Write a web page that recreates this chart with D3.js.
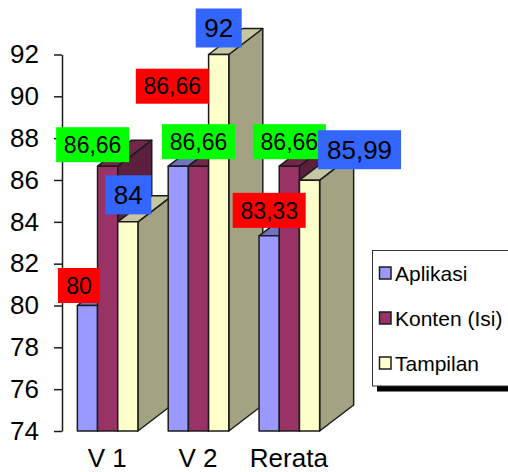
<!DOCTYPE html>
<html>
<head>
<meta charset="utf-8">
<script src="https://cdn.jsdelivr.net/npm/d3@7"></script>
<style>
  html, body { margin: 0; padding: 0; background: #fff; }
  svg { display: block; }
  text { font-family: "Liberation Sans", Arial, sans-serif; fill: #000; }
</style>
</head>
<body>
<div id="chart"></div>
<script>
const categories = ["V 1", "V 2", "Rerata"]
const seriesNames = ["Aplikasi", "Konten (Isi)", "Tampilan"]
const aplikasi = [80, 86.66, 83.33]
const konten = [86.66, 86.66, 86.66]
const tampilan = [84, 92, 85.99]
const yTicks = [74, 76, 78, 80, 82, 84, 86, 88, 90, 92]

const w = 508, h = 472
const depthX = 34, depthY = 26
const edge = "#1c1c1c"

const seriesValues = [aplikasi, konten, tampilan]
const styles = [
  { front: "#9999ff", side: "#5c5c99", top: "#7272bf", box: "#ff0000", font: 23, boxW: 73, boxH: 35 },
  { front: "#993366", side: "#5c1f3d", top: "#72264c", box: "#00ff00", font: 23, boxW: 73, boxH: 35 },
  { front: "#ffffcc", side: "#a3a384", top: "#c6c6a0", box: "#3366ff", font: 26, boxW: 46, boxH: 39 }
]
// hand placed labels: shift from the top centre of each bar, [series][category]
const labelShift = [
  [[-8.5, -20], [-6, -80], [0, -25.5]],
  [[-15, -21.5], [0, -24.5], [0, -24.5]],
  [[0.5, -27], [0, -26.5], [50, -30.5]]
]

const xGroup = d3.scaleBand()
  .domain(categories)
  .range([62, 335])
  .paddingInner(1 / 3)
  .paddingOuter(0.169)

const xBar = d3.scaleBand()
  .domain(seriesNames)
  .range([0, xGroup.bandwidth()])

const y = d3.scaleLinear()
  .domain([74, 92])
  .range([431, 54.5])

const svg = d3.select("#chart").append("svg")
  .attr("width", w)
  .attr("height", h)

// axis
const yAxis = d3.axisLeft(y)
  .tickValues(yTicks)
  .tickSize(8)
  .tickSizeOuter(0)
  .tickPadding(15)

const axisG = svg.append("g")
  .attr("transform", "translate(62, 0)")
  .call(yAxis)
axisG.selectAll("path, line").attr("stroke", edge).attr("stroke-width", 1.5)
axisG.selectAll("text").attr("font-size", 26).attr("font-family", null)

// category labels
svg.append("g").selectAll("text")
  .data(categories)
  .join("text")
  .attr("x", d => xGroup(d) + xGroup.bandwidth() / 2 - 0.5)
  .attr("y", 467)
  .attr("text-anchor", "middle")
  .attr("font-size", 26)
  .text(d => d)

// bars, one group at a time so the later groups cover the earlier sides
const barsG = svg.append("g")
categories.forEach((cat, c) => {
  seriesNames.forEach((name, s) => {
    const x0 = xGroup(cat) + xBar(name)
    const x1 = x0 + xBar.bandwidth()
    const y0 = y(seriesValues[s][c])
    const y1 = y(74)
    const st = styles[s]
    const g = barsG.append("g")
      .attr("stroke", edge)
      .attr("stroke-width", 1.5)
      .attr("stroke-linejoin", "round")
    g.append("path")
      .attr("fill", st.side)
      .attr("d", `M${x1},${y0}L${x1 + depthX},${y0 - depthY}L${x1 + depthX},${y1 - depthY}L${x1},${y1}Z`)
    g.append("path")
      .attr("fill", st.top)
      .attr("d", `M${x0},${y0}L${x0 + depthX},${y0 - depthY}L${x1 + depthX},${y0 - depthY}L${x1},${y0}Z`)
    g.append("rect")
      .attr("x", x0)
      .attr("y", y0)
      .attr("width", xBar.bandwidth())
      .attr("height", y1 - y0)
      .attr("fill", st.front)
  })
})

// value labels
const labelsG = svg.append("g")
seriesNames.forEach((name, s) => {
  categories.forEach((cat, c) => {
    const v = seriesValues[s][c]
    const st = styles[s]
    const txt = String(v).replace(".", ",")
    const cx = xGroup(cat) + xBar(name) + xBar.bandwidth() / 2 + labelShift[s][c][0]
    const cy = y(v) + labelShift[s][c][1]
    const bw = txt.length > 2 ? (s === 2 ? 83 : st.boxW) : (s === 0 ? 42 : st.boxW)
    labelsG.append("rect")
      .attr("x", cx - bw / 2)
      .attr("y", cy - st.boxH / 2)
      .attr("width", bw)
      .attr("height", st.boxH)
      .attr("fill", st.box)
    labelsG.append("text")
      .attr("x", cx)
      .attr("y", cy)
      .attr("dy", "0.36em")
      .attr("text-anchor", "middle")
      .attr("font-size", st.font)
      .text(txt)
  })
})

// legend
const legend = svg.append("g")
legend.append("rect")
  .attr("x", 377).attr("y", 386).attr("width", 131).attr("height", 5.5)
  .attr("fill", "#000")
legend.append("rect")
  .attr("x", 372.5).attr("y", 250.5).attr("width", 136).attr("height", 135.5)
  .attr("fill", "#fff").attr("stroke", "#333").attr("stroke-width", 1)

const legendY = d3.scalePoint().domain(seriesNames).range([273, 363])
const item = legend.selectAll("g")
  .data(seriesNames)
  .join("g")
  .attr("transform", d => `translate(0, ${legendY(d)})`)
item.append("rect")
  .attr("x", 379.5).attr("y", -6).attr("width", 11.5).attr("height", 12)
  .attr("fill", (d, i) => styles[i].front)
  .attr("stroke", edge).attr("stroke-width", 1.5)
item.append("text")
  .attr("x", 395)
  .attr("y", 7.5)
  .attr("font-size", 21)
  .text(d => d)
</script>
</body>
</html>
